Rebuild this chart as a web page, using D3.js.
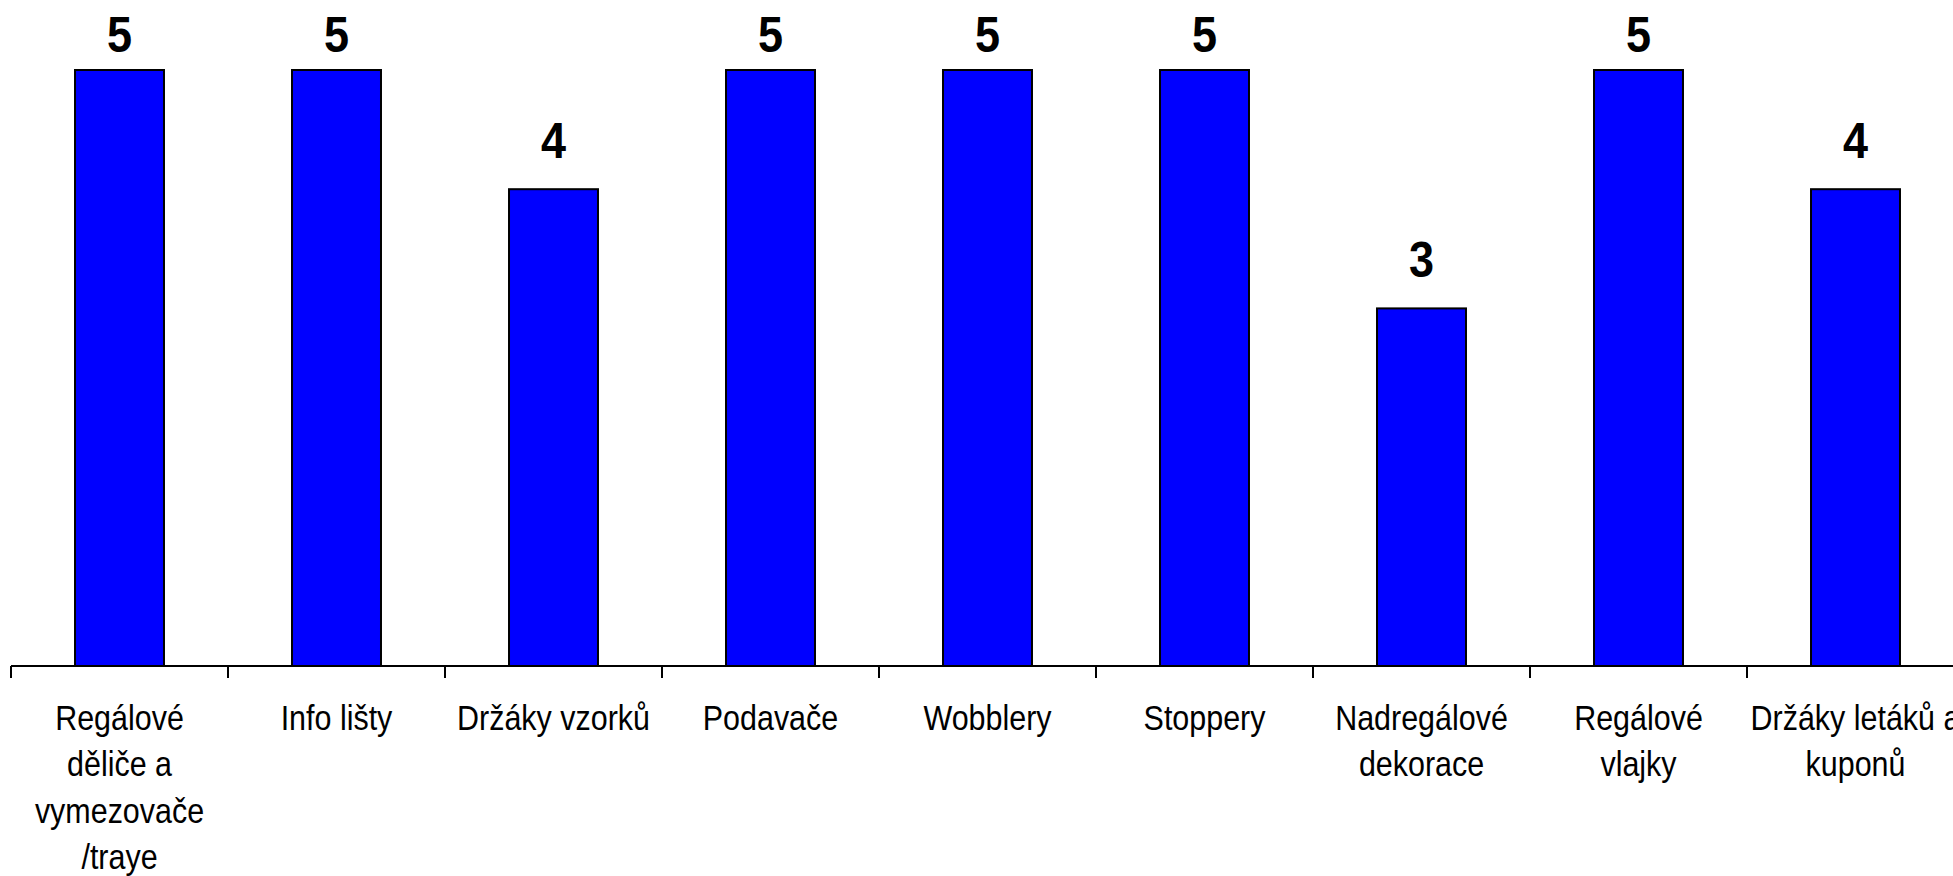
<!DOCTYPE html>
<html>
<head>
<meta charset="utf-8">
<script src="https://cdn.jsdelivr.net/npm/d3@7"></script>
<style>
  html, body { margin: 0; padding: 0; background: #fff; overflow: hidden; }
  svg { display: block; }
</style>
</head>
<body>
<svg id="chart" width="1953" height="876"></svg>
<script>
// ---- data ----
const categories = [
  "Regálové\nděliče a\nvymezovače\n/traye",
  "Info lišty",
  "Držáky vzorků",
  "Podavače",
  "Wobblery",
  "Stoppery",
  "Nadregálové\ndekorace",
  "Regálové\nvlajky",
  "Držáky letáků a\nkuponů"
];
const values = [5, 5, 4, 5, 5, 5, 3, 5, 4];

// ---- layout ----
const W = 1953, H = 876;
const x0 = 11, step = 217;
const baseY = 666, topY = 70;

const svg = d3.select("#chart");

const x = d3.scaleBand()
  .domain(categories)
  .range([x0, x0 + step * categories.length])
  .paddingInner(0.59)
  .paddingOuter(0.295);

const y = d3.scaleLinear().domain([0, 5]).range([baseY, topY]);

const data = categories.map((c, i) => ({ c, v: values[i] }));

// bars
svg.append("g").selectAll("rect")
  .data(data)
  .join("rect")
  .attr("x", d => x(d.c))
  .attr("y", d => y(d.v))
  .attr("width", x.bandwidth())
  .attr("height", d => y(0) - y(d.v))
  .attr("fill", "#0000ff")
  .attr("stroke", "#000")
  .attr("stroke-width", 2);

// axis line
svg.append("line")
  .attr("x1", x0).attr("x2", W)
  .attr("y1", y(0)).attr("y2", y(0))
  .attr("stroke", "#000").attr("stroke-width", 2);

// ticks at band boundaries
const bStarts = categories.map((c, i) => x.range()[0] + i * x.step());
svg.append("g").selectAll("line")
  .data(bStarts)
  .join("line")
  .attr("x1", d => d).attr("x2", d => d)
  .attr("y1", y(0)).attr("y2", y(0) + 12)
  .attr("stroke", "#000").attr("stroke-width", 2);

// value labels
svg.append("g").selectAll("text")
  .data(data)
  .join("text")
  .attr("transform", d => `translate(${x(d.c) + x.bandwidth() / 2},${Math.max(y(d.v) - 31, 52)}) scale(0.9,1)`)
  .attr("text-anchor", "middle")
  .attr("font-family", "'Liberation Sans', Arial, sans-serif")
  .attr("font-weight", "bold")
  .attr("font-size", 50)
  .attr("fill", "#000")
  .text(d => d.v);

// category labels (condensed)
const lab = svg.append("g").selectAll("text")
  .data(data)
  .join("text")
  .attr("transform", d => `translate(${x(d.c) + x.bandwidth() / 2},730) scale(0.87,1)`)
  .attr("text-anchor", "middle")
  .attr("font-family", "'Liberation Sans', Arial, sans-serif")
  .attr("font-size", 35)
  .attr("fill", "#000");
lab.selectAll("tspan")
  .data(d => d.c.split("\n").map((t, i) => ({ t, i })))
  .join("tspan")
  .attr("x", 0)
  .attr("dy", d => d.i === 0 ? 0 : 46.5)
  .text(d => d.t);
</script>
</body>
</html>
